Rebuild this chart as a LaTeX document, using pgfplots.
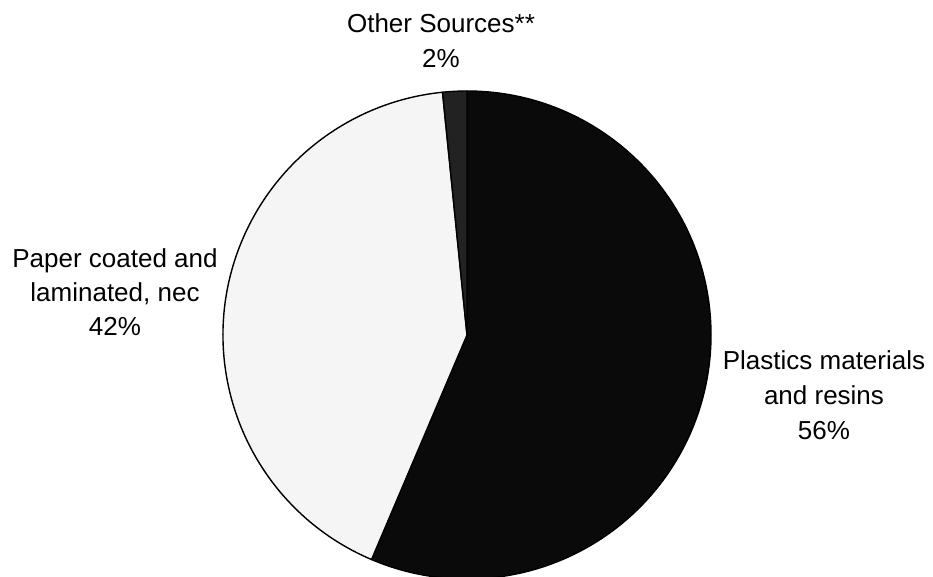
\documentclass[border=0pt]{standalone}
\usepackage{pgfplots}
\pgfplotsset{compat=1.18}
\usepackage{fontspec}
\setmainfont{Liberation Sans}
\definecolor{sliceA}{RGB}{10,10,10}
\definecolor{sliceB}{RGB}{245,245,245}
\definecolor{sliceC}{RGB}{34,34,34}
% shares (percent), clockwise from 12 o'clock
\def\vA{56.4}% Plastics materials and resins
\def\vB{42.0}% Paper coated and laminated, nec
\def\vC{1.6}%  Other Sources**
\pgfmathsetmacro\aS{90}
\pgfmathsetmacro\aA{90-3.6*\vA}
\pgfmathsetmacro\aB{\aA-3.6*\vB}
\pgfmathsetmacro\aC{\aB-3.6*\vC}
\begin{document}
\begin{tikzpicture}
\begin{axis}[hide axis, scale only axis, width=933pt, height=576pt,
  xmin=0, xmax=933, ymin=0, ymax=576, clip=true]
\path (axis cs:0,0) rectangle (axis cs:933,576);
\filldraw[fill=sliceA, draw=black, line width=1.4pt, line join=round]
  (axis cs:467,241) -- ++(\aS:244pt) arc[start angle=\aS, end angle=\aA, radius=244pt] -- cycle;
\filldraw[fill=sliceB, draw=black, line width=1.4pt, line join=round]
  (axis cs:467,241) -- ++(\aA:244pt) arc[start angle=\aA, end angle=\aB, radius=244pt] -- cycle;
\filldraw[fill=sliceC, draw=black, line width=1.4pt, line join=round]
  (axis cs:467,241) -- ++(\aB:244pt) arc[start angle=\aB, end angle=\aC, radius=244pt] -- cycle;
\end{axis}
\node[align=center, font=\fontsize{26}{35}\selectfont] at (441pt,535pt) {Other Sources**\\2\%};
\node[align=center, font=\fontsize{26}{34}\selectfont] at (115pt,284pt) {Paper coated and\\laminated, nec\\42\%};
\node[align=center, font=\fontsize{26}{35}\selectfont] at (824pt,181pt) {Plastics materials\\and resins\\56\%};
\end{tikzpicture}
\end{document}
